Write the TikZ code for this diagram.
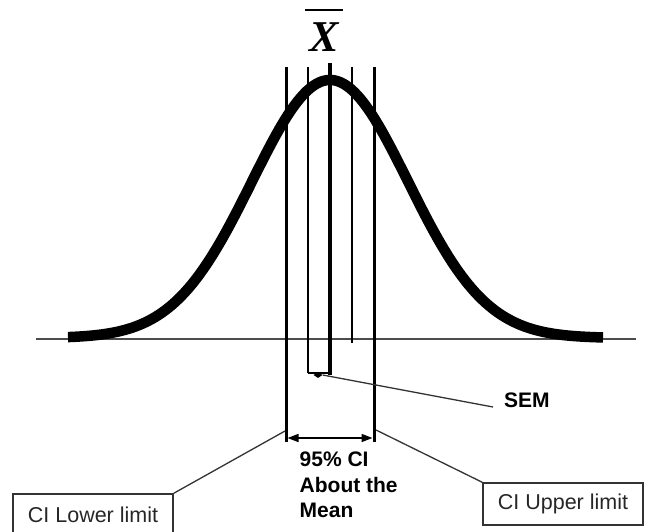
\documentclass[tikz,border=0pt]{standalone}
\usepackage{fontspec}
\setmainfont{Liberation Serif}
\newfontfamily\arialfont{Liberation Sans}
\usetikzlibrary{arrows.meta,shapes.geometric}
\begin{document}
\begin{tikzpicture}[x=1pt,y=-1pt,
  vthick/.style={line width=3pt},
  vthin/.style={line width=1.6pt},
  leader/.style={line width=1.3pt, draw=black!80},
  limitbox/.style={draw=black!80, line width=1.4pt, minimum width=160pt, minimum height=42pt,
    inner sep=0pt, font=\arialfont\fontsize{21.5}{24}\selectfont, text=black!85},
  boldlabel/.style={font=\arialfont\bfseries\fontsize{21}{25.5}\selectfont, align=left, inner sep=0pt}]
\useasboundingbox (0,0) rectangle (650,532);
\clip (0,0) rectangle (650,532);
% axis
\coordinate (axL) at (36,339);
\coordinate (axR) at (636,339);
\draw[line width=2pt, black!70] (axL) -- (axR);
% bell curve
\draw[line width=10.5pt, line join=round]
  plot[domain=68:603, samples=160] (\x, {338 - 258*exp(-0.5*((\x-330)/78)^2)});
% vertical lines
\coordinate (ltop) at (286,67);  \coordinate (lbot) at (286,442);
\coordinate (rtop) at (374,67);  \coordinate (rbot) at (374,442);
\coordinate (itop) at (308,67);  \coordinate (ibot) at (308,373);
\coordinate (ctop) at (330,63);  \coordinate (cbot) at (330,375);
\coordinate (jtop) at (352,67);  \coordinate (jbot) at (352,343);
\draw[vthick] (ltop) -- (lbot);
\draw[vthick] (rtop) -- (rbot);
\draw[vthin] (itop) -- (ibot);
\draw[line width=3.5pt] (ctop) -- (cbot);
\draw[vthin] (jtop) -- (jbot);
\draw[line width=1.2pt] (ibot) -- (330,373);
% X bar label
\node[font=\bfseries\itshape\fontsize{44}{44}\selectfont, inner sep=0pt] (xbar) at (324,37) {X};
\coordinate (barL) at (305,10);
\coordinate (barR) at (343,10);
\draw[line width=2.5pt] (barL) -- (barR);
% SEM
\node[diamond, fill=black, minimum width=9pt, minimum height=6pt, inner sep=0pt] (semdot) at (318,375) {};
\node[boldlabel, anchor=west] (sem) at (504,400) {SEM};
\coordinate (semend) at (493,407);
\draw[leader] (semdot.east) -- (semend);
% CI double arrow
\coordinate (ciL) at (287.5,438);
\coordinate (ciR) at (372.5,438);
\draw[line width=1.6pt, {Triangle[length=11pt,width=8pt]}-{Triangle[length=11pt,width=8pt]}] (ciL) -- (ciR);
\node[boldlabel, anchor=north west] (ci) at (299.5,452) {95\% CI\\About the\\Mean};
% limit boxes
\node[limitbox] (low) at (93,515) {CI Lower limit};
\node[limitbox] (up) at (563,504) {CI Upper limit};
\coordinate (lowhook) at (285,431);
\coordinate (uphook) at (376,430);
\draw[leader] (low.north east) -- (lowhook);
\draw[leader] (uphook) -- (up.north west);
\end{tikzpicture}
\end{document}
